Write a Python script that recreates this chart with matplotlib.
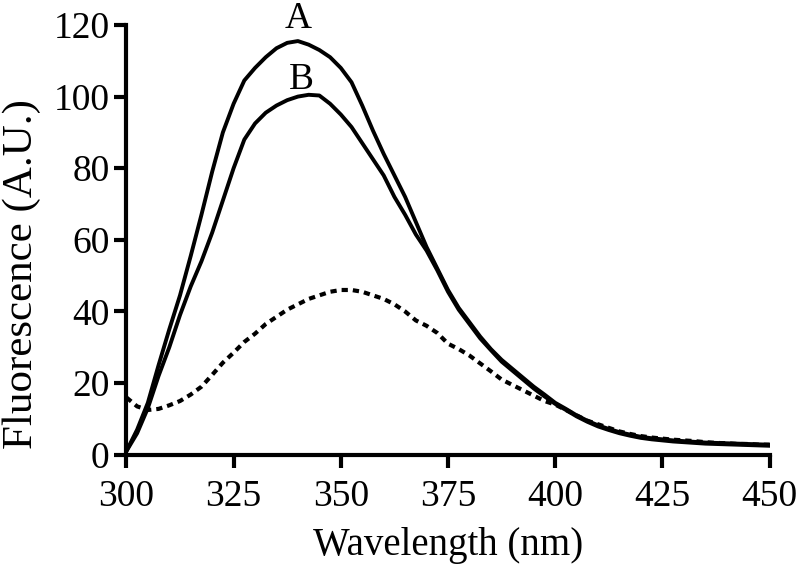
import matplotlib
matplotlib.use("Agg")
import matplotlib.pyplot as plt

plt.rcParams['font.family'] = ['Liberation Serif', 'DejaVu Serif']

# wavelength grid (nm), every 2.5 nm
wavelength = [300, 302.5, 305, 307.5, 310, 312.5, 315, 317.5, 320, 322.5,
              325, 327.5, 330, 332.5, 335, 337.5, 340, 342.5, 345, 347.5,
              350, 352.5, 355, 357.5, 360, 362.5, 365, 367.5, 370, 372.5,
              375, 377.5, 380, 382.5, 385, 387.5, 390, 392.5, 395, 397.5,
              400, 402.5, 405, 407.5, 410, 412.5, 415, 417.5, 420, 422.5,
              425, 427.5, 430, 432.5, 435, 437.5, 440, 442.5, 445, 447.5, 450]

# curve A
fluor_a = [1, 7, 14.5, 25, 35, 44.5, 55.5, 67, 79, 90,
           98, 104.5, 108, 111, 113.5, 115, 115.5, 114.5, 113, 111,
           108, 104, 97.5, 90.5, 84, 78, 72, 65, 58, 52,
           46, 41, 37, 33, 29.5, 26.5, 24, 21.5, 19, 16.8,
           14.5, 12.8, 11, 9.5, 8.2, 7.2, 6.3, 5.6, 5, 4.6,
           4.3, 4, 3.8, 3.6, 3.4, 3.3, 3.2, 3.1, 3, 2.9, 2.8]

# curve B
fluor_b = [1, 6, 13, 22, 30, 39, 47, 54, 62, 71,
           80, 88, 92.5, 95.5, 97.5, 99, 100, 100.5, 100.3, 98,
           95, 91.5, 87, 82.5, 78, 72, 67, 61.5, 57, 51.5,
           45.5, 40.5, 36.5, 32.5, 29.2, 26, 23.5, 21, 18.5, 16.3,
           14.2, 12.5, 10.7, 9.2, 7.9, 6.9, 6, 5.3, 4.7, 4.3,
           4, 3.7, 3.5, 3.3, 3.1, 3, 2.9, 2.8, 2.7, 2.6, 2.5]

# dotted curve
fluor_c = [16, 13.5, 12.5, 12.8, 13.8, 15, 16.8, 19, 22.3, 25.7,
           28.5, 31.5, 33.8, 36.5, 38.5, 40.5, 42, 43.5, 44.5, 45.5,
           46, 46, 45.5, 44.5, 43.5, 42, 40, 37.5, 36, 34,
           31, 29.5, 27.7, 25.5, 23.3, 21, 19.5, 18, 16.5, 15,
           14, 12.5, 11, 9.5, 8.5, 7.5, 6.5, 5.8, 5.2, 4.8,
           4.5, 4.2, 4, 3.8, 3.5, 3.3, 3.2, 3, 3, 2.8, 2.8]

fig = plt.figure(figsize=(8, 5.67), dpi=100)
ax = fig.add_axes([0.158, 0.198, 0.804, 0.758])

ax.plot(wavelength, fluor_a, color='black', lw=2.8, solid_joinstyle='round')
ax.plot(wavelength, fluor_b, color='black', lw=2.8, solid_joinstyle='round')
ax.plot(wavelength, fluor_c, color='black', lw=3.0, linestyle=(0, (1.5, 1.2)))

ax.text(340, 119.2, 'A', fontsize=27, ha='center', va='baseline', clip_on=False)
ax.text(340.8, 102.2, 'B', fontsize=27, ha='center', va='baseline')

ax.set_xlim(300, 450)
ax.set_ylim(0, 120)
ax.set_xticks([300, 325, 350, 375, 400, 425, 450])
ax.set_yticks([0, 20, 40, 60, 80, 100, 120])

for side in ['top', 'right']:
    ax.spines[side].set_visible(False)
for side in ['left', 'bottom']:
    ax.spines[side].set_linewidth(3)

ax.tick_params(direction='out', length=9, width=3, labelsize=27)
ax.tick_params(axis='x', pad=8.5)
ax.tick_params(axis='y', pad=3)
ax.set_xlabel('Wavelength (nm)', fontsize=28, labelpad=10)
ax.set_ylabel('Fluorescence (A.U.)', fontsize=31)
ax.yaxis.set_label_coords(-0.133, 0.42)

fig.savefig('out.png', dpi=100)
